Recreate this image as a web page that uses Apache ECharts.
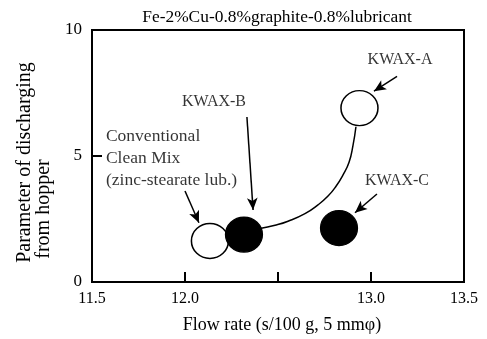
<!DOCTYPE html>
<html><head><meta charset="utf-8">
<script src="https://cdn.jsdelivr.net/npm/echarts@6/dist/echarts.min.js"></script>
<style>html,body{margin:0;padding:0;background:#fff}#c{width:487px;height:339px}</style>
</head><body><div id="c"></div>
<script>
// ---- data ----
const titleText = 'Fe-2%Cu-0.8%graphite-0.8%lubricant';
const xName = 'Flow rate (s/100 g, 5 mm\u03C6)';
const yNameLines = ['Parameter of discharging', 'from hopper'];
const xTickValues = [11.5, 12.0, 12.5, 13.0, 13.5];
const xTickLabels = ['11.5', '12.0', '', '13.0', '13.5'];
const yTickLabels = ['0', '5', '10'];

const materials = ['Conventional', 'KWAX-B', 'KWAX-C', 'KWAX-A'];
const flowRate = [12.134, 12.317, 12.828, 12.938];
const discharge = [1.63, 1.88, 2.14, 6.90];
const filled = [false, true, true, false];

// trend curve from KWAX-B to KWAX-A
const curveX = [12.403, 12.484, 12.554, 12.645, 12.715, 12.769, 12.812, 12.849, 12.882, 12.903, 12.919];
const curveY = [2.12, 2.25, 2.41, 2.71, 3.06, 3.41, 3.80, 4.24, 4.75, 5.41, 6.16];

// annotation labels (data coords)
const labelTexts = ['KWAX-A', 'KWAX-B', 'KWAX-C', 'Conventional\nClean Mix\n(zinc-stearate lub.)'];
const labelX = [13.156, 12.156, 13.14, 11.575];
const labelY = [8.82, 7.14, 4.0, 4.9];

// arrows: start -> end (data coords)
const arrowFromX = [13.140, 12.333, 13.032, 12.0];
const arrowFromY = [8.16, 6.55, 3.49, 3.61];
const arrowToX = [13.016, 12.366, 12.914, 12.075];
const arrowToY = [7.57, 2.86, 2.75, 2.35];

// ---- chart ----
const FONT = '"Liberation Serif", "DejaVu Serif", serif';
const chart = echarts.init(document.getElementById('c'));

const pointData = materials.map((m, i) => ({
  name: m,
  value: [flowRate[i], discharge[i]],
  itemStyle: filled[i]
    ? { color: '#000', borderColor: '#000', borderWidth: 1.2, opacity: 1 }
    : { color: '#fff', borderColor: '#000', borderWidth: 1.5, opacity: 1 }
}));

const arrowData = arrowFromX.map((_, i) => ([
  { coord: [arrowFromX[i], arrowFromY[i]] },
  { coord: [arrowToX[i], arrowToY[i]] }
]));

const labelData = labelTexts.map((t, i) => ({
  name: t,
  value: [labelX[i], labelY[i]],
  label: i === 3
    ? { align: 'left', fontSize: 17.5, lineHeight: 22 }
    : { align: 'center', fontSize: 16 }
}));

chart.setOption({
  animation: false,
  backgroundColor: '#fff',
  title: {
    text: titleText,
    left: 272, top: 4, textAlign: 'center',
    textStyle: { fontFamily: FONT, fontSize: 17.4, fontWeight: 'normal', color: '#000' }
  },
  grid: {
    left: 92, right: 23, top: 30, bottom: 54,
    show: true, borderColor: '#000', borderWidth: 2, backgroundColor: 'transparent'
  },
  xAxis: {
    type: 'value', min: 11.5, max: 13.5, interval: 0.5,
    name: xName, nameLocation: 'middle', nameGap: 43,
    nameTextStyle: { fontFamily: FONT, fontSize: 18, color: '#000', verticalAlign: 'middle', padding: [0, 0, 0, 8] },
    axisLine: { show: true, lineStyle: { color: '#000', width: 2 } },
    axisTick: { show: true, inside: true, length: 10, lineStyle: { color: '#000', width: 2 } },
    splitLine: { show: false },
    axisLabel: {
      fontFamily: FONT, fontSize: 16, color: '#000', margin: 9,
      formatter: v => {
        const i = xTickValues.findIndex(t => Math.abs(t - v) < 1e-6);
        return i >= 0 ? xTickLabels[i] : '';
      }
    }
  },
  yAxis: {
    type: 'value', min: 0, max: 10, interval: 5,
    name: '{a|' + yNameLines[0] + '}\n{b|' + yNameLines[1] + '}',
    nameLocation: 'middle', nameGap: 54, nameRotate: 90,
    nameTextStyle: {
      fontFamily: FONT, fontSize: 20, lineHeight: 19, color: '#000', verticalAlign: 'middle', align: 'center',
      rich: {
        a: { fontFamily: FONT, fontSize: 20, lineHeight: 19, color: '#000', padding: [0, 13, 0, 0] },
        b: { fontFamily: FONT, fontSize: 20, lineHeight: 19, color: '#000', padding: [0, 106, 0, 0] }
      }
    },
    axisLine: { show: true, lineStyle: { color: '#000', width: 2 } },
    axisTick: { show: true, inside: true, length: 10, lineStyle: { color: '#000', width: 2 } },
    splitLine: { show: false },
    axisLabel: {
      fontFamily: FONT, fontSize: 17, color: '#000', margin: 10,
      formatter: v => yTickLabels[Math.round(v / 5)] ?? ''
    }
  },
  series: [
    {
      type: 'line', smooth: 0.5, symbol: 'none', silent: true,
      data: curveX.map((x, i) => [x, curveY[i]]),
      lineStyle: { color: '#000', width: 1.5 },
      z: 2
    },
    {
      type: 'scatter', symbol: 'circle', symbolSize: [37, 35],
      data: pointData, z: 3,
      markLine: {
        silent: true, symbol: ['none', 'arrow'], symbolSize: [8, 12], precision: 6,
        label: { show: false },
        lineStyle: { color: '#000', width: 1.5, type: 'solid', opacity: 1 },
        emphasis: { disabled: true },
        data: arrowData
      }
    },
    {
      type: 'scatter', symbolSize: 0, silent: true, z: 4,
      data: labelData,
      label: {
        show: true, position: 'inside', formatter: p => p.name,
        fontFamily: FONT, color: '#000', verticalAlign: 'middle'
      }
    }
  ]
});
</script>
</body></html>
